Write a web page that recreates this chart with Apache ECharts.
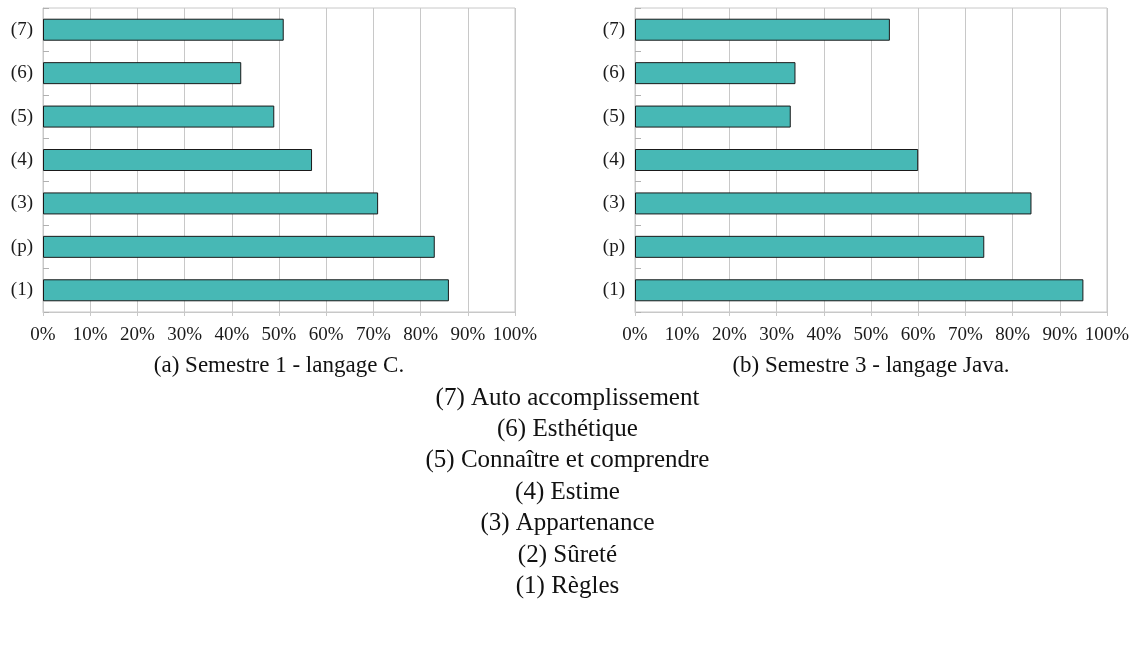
<!DOCTYPE html>
<html>
<head>
<meta charset="utf-8">
<script src="https://cdn.jsdelivr.net/npm/echarts@6/dist/echarts.min.js"></script>
<style>
  html, body { margin: 0; padding: 0; background: #fff; }
  #chart { width: 1135px; height: 657px; }
</style>
</head>
<body>
<div id="chart"></div>
<script>
// Need levels, listed bottom to top
const categories = ['(1)', '(p)', '(3)', '(4)', '(5)', '(6)', '(7)'];
// Share of students per level (%)
const semestre1C = [86, 83, 71, 57, 49, 42, 51];
const semestre3Java = [95, 74, 84, 60, 33, 34, 54];
const xMin = 0, xMax = 100, xStep = 10;
const captions = ['(a) Semestre 1 - langage C.', '(b) Semestre 3 - langage Java.'];
const legendLines = [
  '(7) Auto accomplissement',
  '(6) Esthétique',
  '(5) Connaître et comprendre',
  '(4) Estime',
  '(3) Appartenance',
  '(2) Sûreté',
  '(1) Règles'
];

const FONT = '"Liberation Serif", "DejaVu Serif", serif';
const BAR_COLOR = '#47b8b5';
const GRID_COLOR = '#c8c8c8';

const panels = [
  { left: 43, data: semestre1C },
  { left: 635, data: semestre3Java }
];
const PANEL_W = 472, PANEL_TOP = 8, PANEL_H = 304;

const chart = echarts.init(document.getElementById('chart'), null, { renderer: 'canvas' });

const grids = panels.map(p => ({
  left: p.left, top: PANEL_TOP, width: PANEL_W, height: PANEL_H,
  show: true, borderColor: GRID_COLOR, borderWidth: 1, containLabel: false
}));

const xAxes = panels.map((p, i) => ({
  type: 'value', gridIndex: i, min: xMin, max: xMax, interval: xStep,
  axisLine: { show: true, lineStyle: { color: GRID_COLOR, width: 1 } },
  axisTick: { show: true, length: 4, lineStyle: { color: GRID_COLOR } },
  splitLine: { show: true, lineStyle: { color: GRID_COLOR, width: 1 } },
  axisLabel: {
    formatter: '{value}%', color: '#1a1a1a', fontFamily: FONT, fontSize: 19, margin: 14
  }
}));

const yAxes = panels.map((p, i) => ({
  type: 'category', gridIndex: i, data: categories,
  axisLine: { show: true, lineStyle: { color: GRID_COLOR } },
  axisTick: { show: true, inside: true, length: 6, lineStyle: { color: '#b0b0b0' } },
  axisLabel: { color: '#1a1a1a', fontFamily: FONT, fontSize: 19, margin: 10 }
}));

const series = panels.map((p, i) => ({
  type: 'bar', xAxisIndex: i, yAxisIndex: i, data: p.data,
  barWidth: 22,
  itemStyle: { color: BAR_COLOR, borderColor: '#1a1a1a', borderWidth: 1 },
  silent: true, animation: false
}));

const captionCenters = [PANEL_W / 2 + panels[0].left, PANEL_W / 2 + panels[1].left];
const graphics = captions.map((t, i) => ({
  type: 'text', x: captionCenters[i], y: 366,
  style: { text: t, fontFamily: FONT, fontSize: 23, fill: '#111', align: 'center', verticalAlign: 'middle' }
}));
legendLines.forEach((t, i) => {
  graphics.push({
    type: 'text', x: 567.5, y: 398 + i * 31.4,
    style: { text: t, fontFamily: FONT, fontSize: 25, fill: '#111', align: 'center', verticalAlign: 'middle' }
  });
});

chart.setOption({
  animation: false,
  backgroundColor: '#ffffff',
  grid: grids,
  xAxis: xAxes,
  yAxis: yAxes,
  series: series,
  graphic: graphics
});
</script>
</body>
</html>
